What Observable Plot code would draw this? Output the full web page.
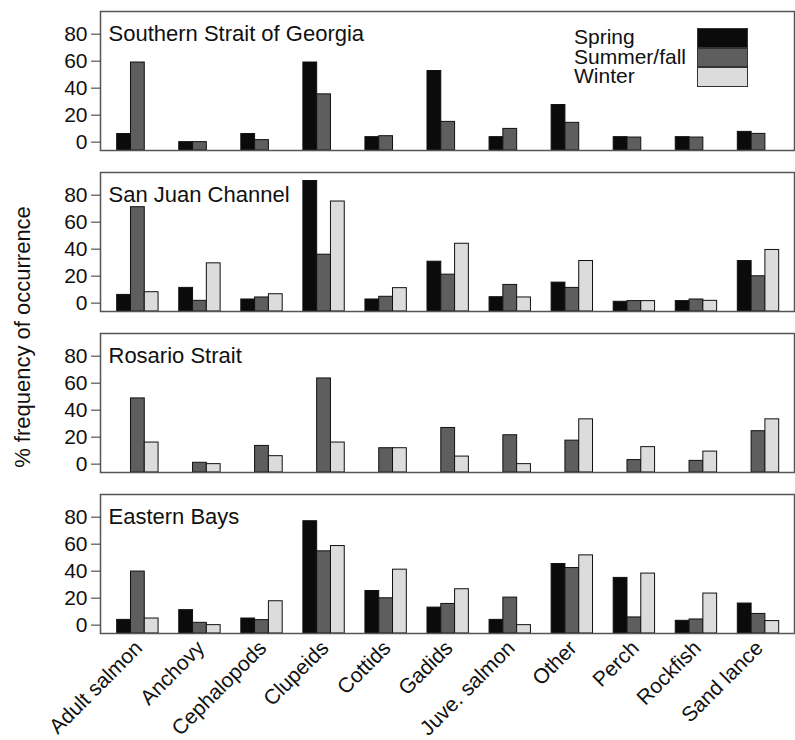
<!DOCTYPE html>
<html>
<head>
<meta charset="utf-8">
<script src="https://cdn.jsdelivr.net/npm/d3@7"></script>
<script src="https://cdn.jsdelivr.net/npm/@observablehq/plot@0.6"></script>
<style>
  html, body { margin: 0; padding: 0; background: #fff; }
  #wrap { position: relative; width: 795px; height: 740px; font-family: "Liberation Sans", Arial, Helvetica, sans-serif; }
  #legend { position: absolute; left: 574px; top: 28px; }
  #legend .labs { position: absolute; left: 0; top: -1px; font-size: 21px; line-height: 19.5px; color: #111; white-space: pre; }
  #legend .sw { position: absolute; left: 123px; width: 51px; height: 19.5px; box-sizing: border-box; border: 1px solid #333; }
</style>
</head>
<body>
<div id="wrap"></div>
<script>
// ---- data ----
const categories = ["Adult salmon", "Anchovy", "Cephalopods", "Clupeids", "Cottids", "Gadids",
  "Juve. salmon", "Other", "Perch", "Rockfish", "Sand lance"];
const regions = ["Southern Strait of Georgia", "San Juan Channel", "Rosario Strait", "Eastern Bays"];
const seasons = ["Spring", "Summer/fall", "Winter"];
const seasonColors = ["#0b0b0b", "#5e5e5e", "#dcdcdc"];
const yTicks = [0, 20, 40, 60, 80];

const ssgSpring = [6, 0, 6, 59, 3.7, 52.7, 3.7, 27.5, 3.7, 3.7, 7.6];
const ssgSummer = [59, 0, 1.5, 35.4, 4.4, 15, 9.8, 14.3, 3.4, 3.4, 6.1];
const ssgWinter = [null, null, null, null, null, null, null, null, null, null, null];

const sjcSpring = [6.1, 11.3, 2.7, 90.5, 2.7, 30.7, 4.4, 15.2, 1, 1.5, 31.2];
const sjcSummer = [71.1, 1.7, 4.2, 35.9, 4.7, 21.1, 13.5, 11.3, 1.5, 2.7, 19.9];
const sjcWinter = [8.1, 29.5, 6.6, 75.3, 11.1, 44, 4.2, 31.2, 1.5, 1.7, 39.4];

const rsSpring = [null, null, null, null, null, null, null, null, null, null, null];
const rsSummer = [48.7, 1, 13.5, 63.5, 11.8, 26.8, 21.4, 17.4, 3, 2.4, 24.4];
const rsWinter = [16, 0, 5.9, 16, 11.8, 5.6, 0, 33.2, 12.6, 9.3, 33.2];

const ebSpring = [3.9, 11.1, 4.9, 77, 25.3, 13, 3.9, 45.3, 35, 3.2, 16];
const ebSummer = [39.7, 1.7, 3.7, 54.7, 19.9, 15.7, 20.4, 42.3, 5.7, 4.2, 8.3];
const ebWinter = [4.9, 0, 17.7, 58.6, 41.1, 26.6, 0, 51.7, 38.2, 23.4, 3];

const seriesByRegion = [
  [ssgSpring, ssgSummer, ssgWinter],
  [sjcSpring, sjcSummer, sjcWinter],
  [rsSpring, rsSummer, rsWinter],
  [ebSpring, ebSummer, ebWinter]
];

// ---- layout config (not data) ----
const Y_MIN = -6.2, Y_MAX = 96.8;
const GROUP_SPACE = 1.5;           // gap before each group, in bar widths
const PERIOD = seasons.length + GROUP_SPACE;

const rows = [];
regions.forEach((r, ri) => {
  seriesByRegion[ri].forEach((vals, si) => {
    vals.forEach((v, ci) => {
      if (v == null) return;
      const x1 = GROUP_SPACE + ci * PERIOD + si;
      rows.push({region: r, season: seasons[si], category: categories[ci], value: v, x1, x2: x1 + 1});
    });
  });
});
const tickPos = categories.map((c, ci) => GROUP_SPACE + ci * PERIOD + seasons.length / 2);
const tickName = new Map(tickPos.map((p, i) => [p, categories[i]]));
const titles = regions.map(r => ({region: r}));

const FONT = '"Liberation Sans", Arial, Helvetica, sans-serif';

const chart = Plot.plot({
  width: 795,
  height: 740,
  marginLeft: 100,
  marginRight: 1,
  marginTop: 11,
  marginBottom: 106,
  style: {fontFamily: FONT, color: "#111", background: "#fff"},
  x: {domain: [0.29, 50.61], axis: null},
  y: {domain: [Y_MIN, Y_MAX], axis: null},
  fy: {domain: regions, axis: null, paddingInner: 0.135, paddingOuter: 0},
  color: {domain: seasons, range: seasonColors},
  marks: [
    Plot.rect(rows, {x1: "x1", x2: "x2", y1: Y_MIN, y2: "value", fy: "region", fill: "season", stroke: "#111", strokeWidth: 1}),
    Plot.frame({stroke: "#555", strokeWidth: 1.5}),
    Plot.axisY({ticks: yTicks, tickSize: 9, tickPadding: 4, fontSize: 21, stroke: "#333", label: null}),
    Plot.axisX({ticks: tickPos, tickFormat: d => tickName.get(d), tickSize: 0, tickRotate: -45, fontSize: 21, tickPadding: 6, dx: 1, dy: 5, label: null}),
    Plot.text(titles, {fy: "region", text: "region", frameAnchor: "left", y: 80, dx: 8, textAnchor: "start", lineAnchor: "middle", fontSize: 22, fill: "#111"})
  ]
});

const wrap = document.getElementById("wrap");
wrap.appendChild(chart);

// y-axis title
d3.select(chart).append("text")
  .attr("transform", "translate(30,337) rotate(-90)")
  .attr("text-anchor", "middle")
  .attr("font-size", 22)
  .attr("font-family", FONT)
  .attr("fill", "#111")
  .text("% frequency of occurrence");

// legend (HTML): one text block with line breaks, plus swatches
const legend = d3.select(wrap).append("div").attr("id", "legend");
legend.append("div").attr("class", "labs").text(seasons.join("\n"));
seasons.forEach((s, i) => {
  legend.append("span").attr("class", "sw")
    .style("top", (i * 19.5) + "px")
    .style("background", seasonColors[i]);
});
</script>
</body>
</html>
